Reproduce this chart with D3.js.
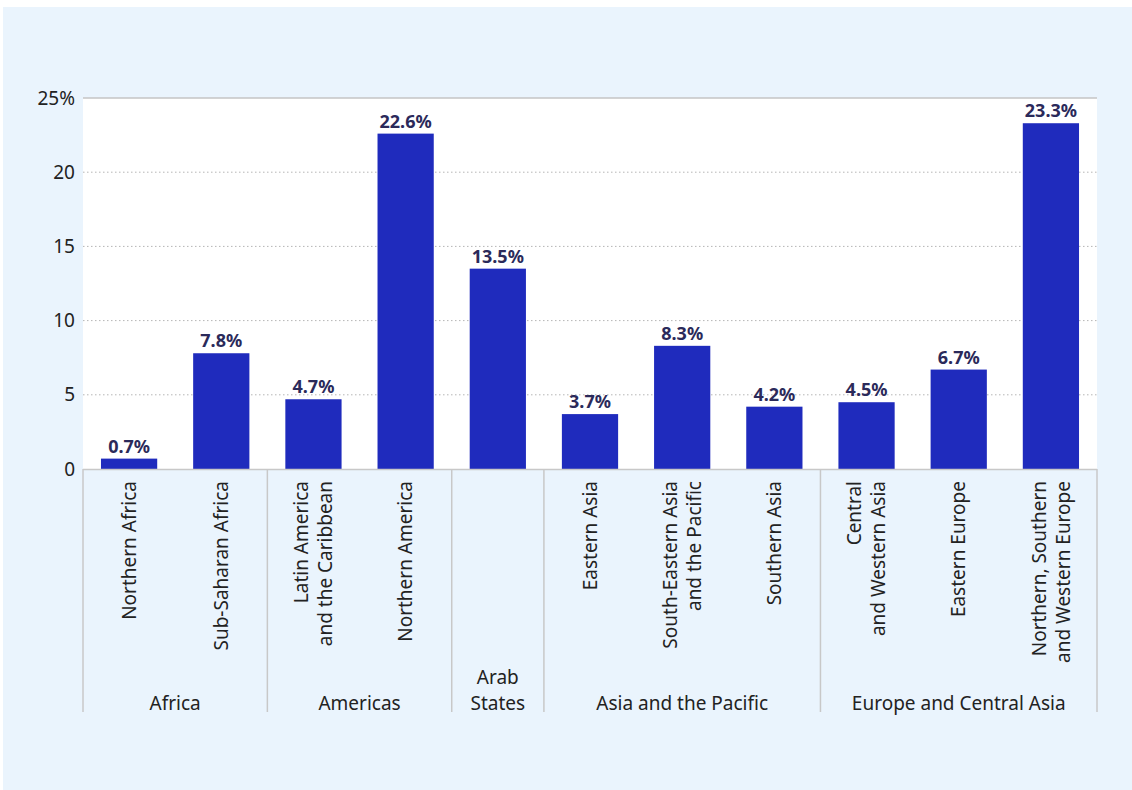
<!DOCTYPE html>
<html><head><meta charset="utf-8">
<script src="https://cdn.jsdelivr.net/npm/d3@7"></script>
<style>body{margin:0;background:#fff;} svg{display:block;font-family:"Noto Sans","Open Sans",sans-serif;}</style>
</head><body>
<script>
const categories = ["Northern Africa","Sub-Saharan Africa","Latin America\nand the Caribbean","Northern America","","Eastern Asia","South-Eastern Asia\nand the Pacific","Southern Asia","Central\nand Western Asia","Eastern Europe","Northern, Southern\nand Western Europe"];
const values = [0.7,7.8,4.7,22.6,13.5,3.7,8.3,4.2,4.5,6.7,23.3];
const groups = ["Africa","Americas","Arab\nStates","Asia and the Pacific","Europe and Central Asia"];
const groupSizes = [2,2,1,3,3];
const yTicks = [0,5,10,15,20,25];

const W=1132,H=790;
const svg=d3.select("body").append("svg").attr("width",W).attr("height",H);
svg.append("rect").attr("x",3).attr("y",7).attr("width",W-3).attr("height",H-7).attr("fill","#eaf4fd");

const L=83,R=1097,T=98,B=469;
const x=d3.scaleBand().domain(d3.range(categories.length)).range([L,R]).paddingInner(0.39).paddingOuter(0.195);
const y=d3.scaleLinear().domain([0,25]).range([B,T]);

svg.append("rect").attr("x",L).attr("y",T).attr("width",R-L).attr("height",B-T).attr("fill","#fff");

// grid
svg.append("g").selectAll("line").data(yTicks.filter(d=>d>0&&d<25)).join("line")
 .attr("x1",L).attr("x2",R).attr("y1",d=>y(d)).attr("y2",d=>y(d))
 .attr("stroke","#b5b5b5").attr("stroke-dasharray","1.5,2.5");
svg.append("line").attr("x1",L).attr("x2",R).attr("y1",y(25)).attr("y2",y(25)).attr("stroke","#c4c4c4").attr("stroke-width",1.5);

// y labels
svg.append("g").selectAll("text").data(yTicks).join("text")
 .attr("x",75).attr("y",d=>y(d)).attr("dy","0.35em").attr("text-anchor","end")
 .attr("font-size",19).attr("fill","#222").text(d=>d===25?d+"%":d);

// bars
svg.append("g").selectAll("rect").data(values).join("rect")
 .attr("x",(d,i)=>x(i)).attr("width",x.bandwidth())
 .attr("y",d=>y(d)).attr("height",d=>B-y(d)).attr("fill","#1f2bbd");

// value labels
svg.append("g").selectAll("text").data(values).join("text")
 .attr("x",(d,i)=>x(i)+x.bandwidth()/2).attr("y",d=>y(d)-6)
 .attr("text-anchor","middle").attr("font-size",18).attr("font-weight","bold").attr("fill","#2b2a5a")
 .text(d=>d.toFixed(1)+"%");

// axis baseline
svg.append("line").attr("x1",L).attr("x2",R).attr("y1",B+0.5).attr("y2",B+0.5).attr("stroke","#c8c8c8").attr("stroke-width",1.5);

// category labels
const cg=svg.append("g");
categories.forEach((c,i)=>{
  if(!c) return;
  const lines=c.split("\n");
  const cx=x(i)+x.bandwidth()/2;
  const lh=24;
  const t=cg.append("text").attr("transform",`translate(${cx},${B+12}) rotate(-90)`)
   .attr("text-anchor","end").attr("font-size",19).attr("fill","#222");
  lines.forEach((ln,k)=>{
    const off=(k-(lines.length-1)/2)*lh;
    t.append("tspan").attr("x",0).attr("y",off).attr("dy","0.35em").text(ln);
  });
});

// group separators and labels
let start=0;
const edges=[L];
groupSizes.forEach(s=>{start+=s;edges.push(L+(R-L)*start/categories.length);});
svg.append("g").selectAll("line").data(edges).join("line")
 .attr("x1",d=>d).attr("x2",d=>d).attr("y1",B).attr("y2",712)
 .attr("stroke","#c8c8c8").attr("stroke-width",1.5);
groups.forEach((g,i)=>{
  const cx=(edges[i]+edges[i+1])/2;
  const lines=g.split("\n");
  const t=svg.append("text").attr("text-anchor","middle").attr("font-size",19).attr("fill","#222");
  lines.forEach((ln,k)=>{
    t.append("tspan").attr("x",cx).attr("y",710-(lines.length-1-k)*26).text(ln);
  });
});
</script>
</body></html>
